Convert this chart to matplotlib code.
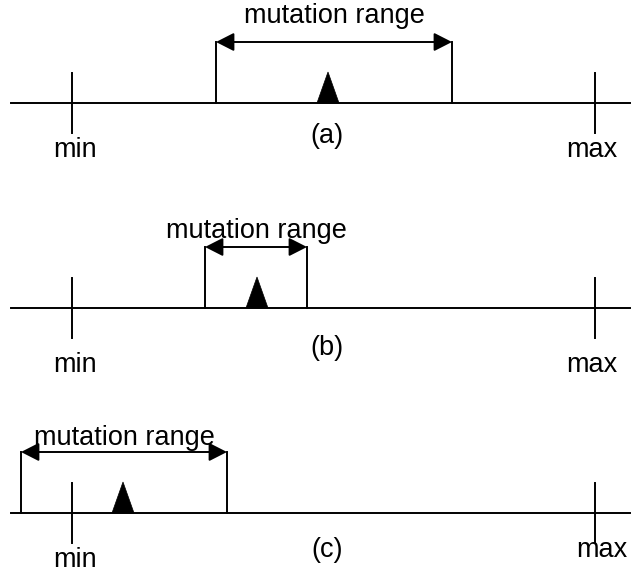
import matplotlib

matplotlib.use("Agg")
import matplotlib.pyplot as plt
from matplotlib.patches import Polygon

INK = "#000000"
plt.rcParams["font.family"] = ["Liberation Sans", "DejaVu Sans"]

# three cases, drawn in pixel-like units (x to the right, y downward)
panel_labels = ["(a)", "(b)", "(c)"]
axis_y = [103, 308, 513]
bracket_top = [42, 247, 452]
range_lo = [216, 205, 21]
range_hi = [452, 307, 227]
parent_x = [328, 257, 123]
min_x = 72
max_x = 595

# text baselines per panel: range caption, panel label, "min", "max"
caption_base = [23, 238, 445]
panel_base = [143, 355, 557]
min_base = [157, 372, 567]
max_base = [157, 372, 557]
max_text_x = [592, 592, 602]

FS = 19.5
LW = 1.4

fig = plt.figure(figsize=(6.36, 5.72), dpi=100, facecolor="white")
ax = fig.add_axes([0, 0, 1, 1])
ax.set_xlim(0, 636)
ax.set_ylim(572, 0)
ax.axis("off")

for i, lab in enumerate(panel_labels):
    y = axis_y[i]
    top = bracket_top[i]
    lo, hi = range_lo[i], range_hi[i]
    px = parent_x[i]

    ax.plot([11, 630], [y, y], color=INK, lw=LW)
    for tx in (min_x, max_x):
        ax.plot([tx, tx], [y - 30, y + 30], color=INK, lw=LW)

    ax.plot([lo, lo], [top, y], color=INK, lw=LW)
    ax.plot([hi, hi], [top, y], color=INK, lw=LW)
    ax.annotate(
        "",
        xy=(hi, top),
        xytext=(lo, top),
        arrowprops=dict(
            arrowstyle="<|-|>,head_length=0.55,head_width=0.28",
            color=INK,
            lw=LW,
            shrinkA=0,
            shrinkB=0,
            mutation_scale=20,
        ),
    )
    ax.text((lo + hi) / 2, caption_base[i], "mutation range", ha="center",
            va="baseline", fontsize=FS, color=INK)

    ax.add_patch(Polygon([[px - 11, y], [px + 11, y], [px, y - 31]], closed=True,
                         facecolor=INK, edgecolor=INK, lw=0.5))

    ax.text(327, panel_base[i], lab, ha="center", va="baseline", fontsize=FS, color=INK)
    ax.text(75, min_base[i], "min", ha="center", va="baseline", fontsize=FS, color=INK)
    ax.text(max_text_x[i], max_base[i], "max", ha="center", va="baseline",
            fontsize=FS, color=INK)

fig.savefig("out.png", dpi=100, facecolor="white")
